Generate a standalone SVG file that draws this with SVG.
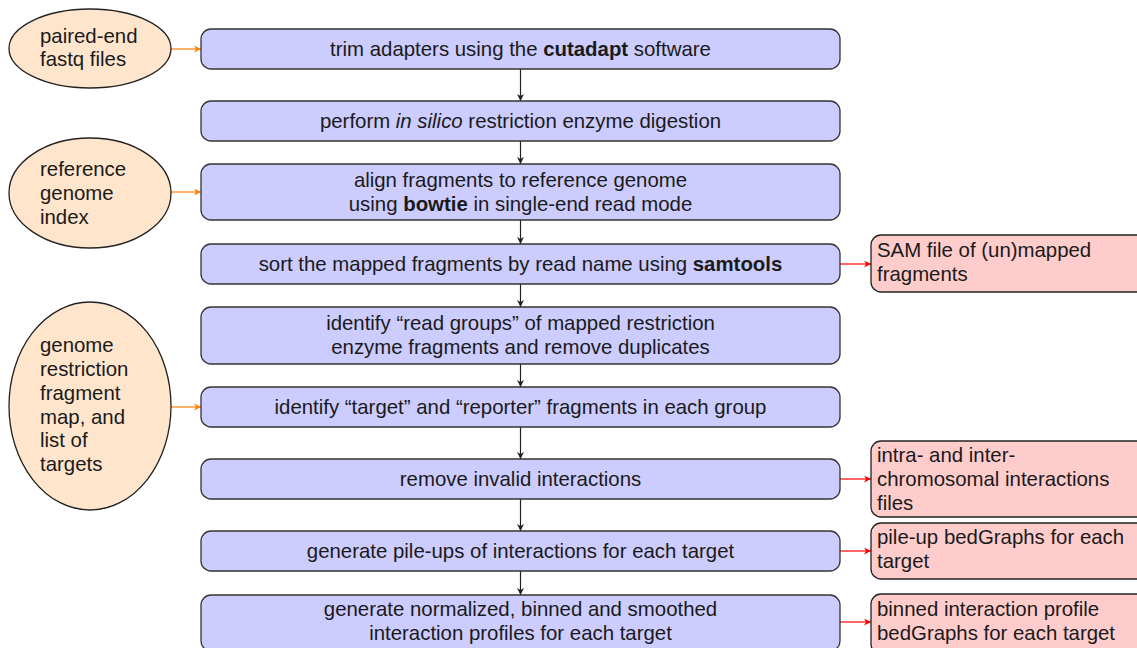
<svg xmlns="http://www.w3.org/2000/svg" width="1137" height="648" viewBox="0 0 1137 648">
<defs>
<style>
text{font-family:"Liberation Sans",Arial,sans-serif;font-size:20.4px;fill:#1a1a1a}
.c{text-anchor:middle}
.step{fill:#ccccff;stroke:#333;stroke-width:1.3}
.out{fill:#ffcccc;stroke:#222;stroke-width:1.3}
.inp{fill:#ffe5cc;stroke:#222;stroke-width:1.3}
.k{stroke:#222;stroke-width:1.2;fill:none}
.o{stroke:#ff8000;stroke-width:1.2;fill:none}
.r{stroke:#ff0000;stroke-width:1.2;fill:none}
</style>
<marker id="ak" viewBox="0 0 10 10" refX="10" refY="5" markerWidth="7" markerHeight="7" markerUnits="userSpaceOnUse" orient="auto"><path d="M0,0 L10,5 L0,10 L3,5 Z" fill="#222"/></marker>
<marker id="ao" viewBox="0 0 10 10" refX="10" refY="5" markerWidth="7" markerHeight="7" markerUnits="userSpaceOnUse" orient="auto"><path d="M0,0 L10,5 L0,10 L3,5 Z" fill="#ff8000"/></marker>
<marker id="ar" viewBox="0 0 10 10" refX="10" refY="5" markerWidth="7" markerHeight="7" markerUnits="userSpaceOnUse" orient="auto"><path d="M0,0 L10,5 L0,10 L3,5 Z" fill="#ff0000"/></marker>
</defs>
<rect width="1137" height="648" fill="#fff"/>

<g id="connectors">
<line class="k" x1="520.5" y1="69" x2="520.5" y2="101" marker-end="url(#ak)"/>
<line class="k" x1="520.5" y1="141" x2="520.5" y2="164" marker-end="url(#ak)"/>
<line class="k" x1="520.5" y1="220" x2="520.5" y2="244" marker-end="url(#ak)"/>
<line class="k" x1="520.5" y1="284" x2="520.5" y2="307" marker-end="url(#ak)"/>
<line class="k" x1="520.5" y1="364" x2="520.5" y2="387" marker-end="url(#ak)"/>
<line class="k" x1="520.5" y1="427" x2="520.5" y2="459" marker-end="url(#ak)"/>
<line class="k" x1="520.5" y1="499" x2="520.5" y2="531" marker-end="url(#ak)"/>
<line class="k" x1="520.5" y1="571" x2="520.5" y2="595" marker-end="url(#ak)"/>
<line class="o" x1="171" y1="49" x2="201" y2="49" marker-end="url(#ao)"/>
<line class="o" x1="171" y1="192" x2="201" y2="192" marker-end="url(#ao)"/>
<line class="o" x1="171" y1="407" x2="201" y2="407" marker-end="url(#ao)"/>
<line class="r" x1="840" y1="264" x2="871" y2="264" marker-end="url(#ar)"/>
<line class="r" x1="840" y1="479" x2="871" y2="479" marker-end="url(#ar)"/>
<line class="r" x1="840" y1="551" x2="871" y2="551" marker-end="url(#ar)"/>
<line class="r" x1="840" y1="622" x2="871" y2="622" marker-end="url(#ar)"/>
</g>

<g id="in1"><ellipse class="inp" cx="90" cy="48.5" rx="81" ry="39.5"/>
<text x="40" y="43">paired-end</text><text x="40" y="66">fastq files</text></g>
<g id="in2"><ellipse class="inp" cx="90" cy="193" rx="81" ry="55"/>
<text x="40" y="176">reference</text><text x="40" y="200">genome</text><text x="40" y="224">index</text></g>
<g id="in3"><ellipse class="inp" cx="90" cy="406" rx="81" ry="104"/>
<text x="40" y="352">genome</text><text x="40" y="376">restriction</text><text x="40" y="400">fragment</text><text x="40" y="424">map, and</text><text x="40" y="447">list of</text><text x="40" y="471">targets</text></g>

<g id="s1"><rect class="step" x="201" y="29" width="639" height="40" rx="10"/>
<text class="c" x="520.5" y="56">trim adapters using the <tspan font-weight="bold">cutadapt</tspan> software</text></g>
<g id="s2"><rect class="step" x="201" y="101" width="639" height="40" rx="10"/>
<text class="c" x="520.5" y="128">perform <tspan font-style="italic">in silico</tspan> restriction enzyme digestion</text></g>
<g id="s3"><rect class="step" x="201" y="164" width="639" height="56" rx="10"/>
<text class="c" x="520.5" y="187">align fragments to reference genome</text>
<text class="c" x="520.5" y="211">using <tspan font-weight="bold">bowtie</tspan> in single-end read mode</text></g>
<g id="s4"><rect class="step" x="201" y="244" width="639" height="40" rx="10"/>
<text class="c" x="520.5" y="271">sort the mapped fragments by read name using <tspan font-weight="bold">samtools</tspan></text></g>
<g id="s5"><rect class="step" x="201" y="307" width="639" height="57" rx="10"/>
<text class="c" x="520.5" y="330">identify “read groups” of mapped restriction</text>
<text class="c" x="520.5" y="354">enzyme fragments and remove duplicates</text></g>
<g id="s6"><rect class="step" x="201" y="387" width="639" height="40" rx="10"/>
<text class="c" x="520.5" y="414">identify “target” and “reporter” fragments in each group</text></g>
<g id="s7"><rect class="step" x="201" y="459" width="639" height="40" rx="10"/>
<text class="c" x="520.5" y="486">remove invalid interactions</text></g>
<g id="s8"><rect class="step" x="201" y="531" width="639" height="40" rx="10"/>
<text class="c" x="520.5" y="558">generate pile-ups of interactions for each target</text></g>
<g id="s9"><rect class="step" x="201" y="595" width="639" height="56" rx="10"/>
<text class="c" x="520.5" y="616">generate normalized, binned and smoothed</text>
<text class="c" x="520.5" y="640">interaction profiles for each target</text></g>

<g id="o1"><rect class="out" x="871" y="235" width="280" height="57" rx="10"/>
<text x="877" y="257">SAM file of (un)mapped</text><text x="877" y="281">fragments</text></g>
<g id="o2"><rect class="out" x="871" y="441" width="280" height="76" rx="10"/>
<text x="877" y="462">intra- and inter-</text><text x="877" y="486">chromosomal interactions</text><text x="877" y="510">files</text></g>
<g id="o3"><rect class="out" x="871" y="523" width="280" height="56" rx="10"/>
<text x="877" y="544">pile-up bedGraphs for each</text><text x="877" y="568">target</text></g>
<g id="o4"><rect class="out" x="871" y="594" width="280" height="60" rx="10"/>
<text x="877" y="616">binned interaction profile</text><text x="877" y="640">bedGraphs for each target</text></g>
</svg>
